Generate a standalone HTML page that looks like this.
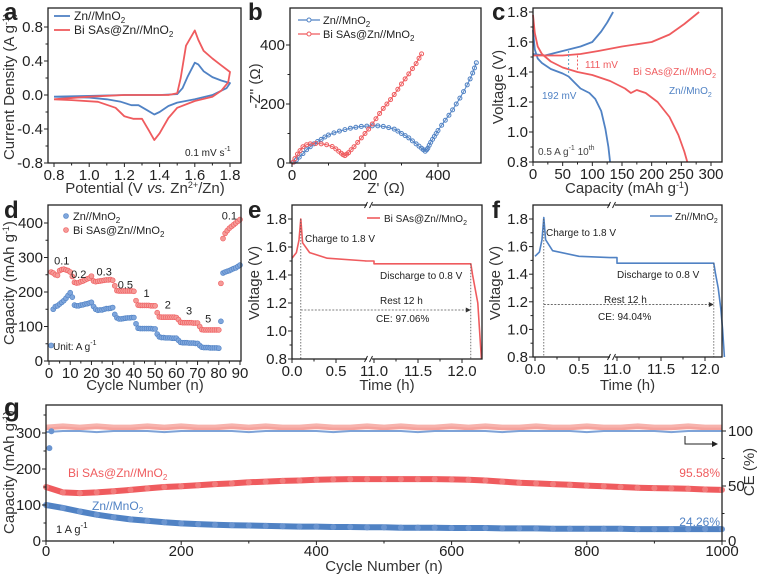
<!DOCTYPE html>
<html><head><meta charset="utf-8"><style>
html,body{margin:0;padding:0;background:#fff;width:761px;height:574px;overflow:hidden}
svg{display:block;font-family:"Liberation Sans",Arial,sans-serif}
</style></head><body>
<svg id="fig" width="761" height="574" viewBox="0 0 761 574" xmlns="http://www.w3.org/2000/svg"></svg>
<script>
// ---------- DATA ----------
const cvZnV=[0.8,1.0,1.2,1.4,1.5,1.53,1.56,1.6,1.62,1.65,1.7,1.75,1.8,1.78,1.7,1.6,1.5,1.45,1.4,1.37,1.33,1.28,1.24,1.18,1.1,1.0,0.8];
const cvZnI=[-0.02,-0.01,0.0,0.0,0.01,0.08,0.22,0.38,0.36,0.28,0.21,0.17,0.14,0.08,0.0,-0.05,-0.09,-0.13,-0.2,-0.23,-0.18,-0.12,-0.12,-0.08,-0.05,-0.03,-0.02];
const cvBiV=[0.8,1.0,1.2,1.45,1.5,1.52,1.55,1.6,1.62,1.65,1.7,1.75,1.8,1.79,1.75,1.7,1.6,1.5,1.45,1.4,1.37,1.34,1.3,1.25,1.2,1.15,1.05,0.9,0.8];
const cvBiI=[-0.05,-0.02,0,0,0.02,0.2,0.58,0.76,0.65,0.52,0.43,0.35,0.27,0.15,0.05,-0.02,-0.07,-0.15,-0.27,-0.45,-0.53,-0.42,-0.28,-0.28,-0.25,-0.15,-0.08,-0.06,-0.05];
const eisZnRe=[5,12,20,30,40,50,60,70,80,90,100,115,130,145,160,175,190,205,220,235,250,265,280,290,300,310,320,330,340,348,355,360,365,369,372,376,380,385,390,395,400,410,420,430,440,450,460,470,480,488,495,500,505];
const eisZnIm=[3,10,20,32,45,55,65,73,80,88,95,102,108,113,118,121,124,125,126,126,124,120,115,108,100,93,85,75,65,57,50,45,40,45,50,60,70,80,90,100,110,128,145,162,180,200,220,242,265,285,305,322,340];
const eisBiRe=[3,8,15,22,30,40,50,65,80,95,110,120,128,135,140,145,150,155,162,170,180,190,200,210,220,230,240,250,260,270,280,290,300,310,320,330,340,348,355];
const eisBiIm=[3,15,30,42,55,62,65,66,65,62,56,48,40,33,28,25,30,35,45,55,70,85,100,115,132,150,168,185,200,215,232,250,268,285,302,320,337,355,370];
const cZnChQ=[0,20,40,60,80,100,115,125,135];
const cZnChV=[1.52,1.51,1.53,1.55,1.57,1.60,1.67,1.73,1.80];
const cZnDiQ=[0,3,8,15,30,50,60,70,80,95,105,115,122,127,130];
const cZnDiV=[1.68,1.55,1.49,1.46,1.42,1.39,1.37,1.33,1.29,1.26,1.22,1.14,1.02,0.9,0.8];
const cBiChQ=[0,50,80,110,150,200,230,255,280];
const cBiChV=[1.51,1.51,1.52,1.54,1.57,1.60,1.65,1.72,1.80];
const cBiDiQ=[0,3,8,15,30,50,75,100,130,155,165,175,190,210,230,245,255,260];
const cBiDiV=[1.78,1.66,1.57,1.52,1.47,1.43,1.40,1.38,1.34,1.29,1.26,1.28,1.26,1.20,1.10,0.98,0.87,0.8];
const dBi=[258,255,250,248,262,265,266,264,262,258,245,228,226,227,230,232,235,238,240,246,232,230,231,232,233,234,235,235,236,234,218,204,203,203,203,203,203,203,203,202,175,162,161,161,161,161,161,160,160,160,140,128,127,127,127,127,127,127,127,126,120,112,111,111,111,111,111,110,110,110,100,91,90,90,90,90,90,90,90,90,225,355,370,378,385,390,395,400,405,410];
const dZn=[45,150,158,160,165,170,175,182,190,198,185,162,160,160,162,163,165,166,168,170,158,150,147,148,148,150,152,152,153,155,135,125,122,122,123,124,125,125,126,126,108,95,94,94,94,94,94,94,93,93,78,70,68,68,67,67,67,66,66,66,60,54,53,53,53,52,52,52,51,51,45,40,39,39,39,38,38,38,38,37,115,255,258,260,262,265,268,270,274,278];
const dRateLabels=["0.1","0.2","0.3","0.5","1","2","3","5","0.1"];
const dRateCycle=[6,14,26,36,46,56,66,75,85];
const dRateCap=[280,240,248,210,185,152,135,112,410];
const eT=[0,0.05,0.08,0.1,0.12,0.2,0.4,0.85,10.9,11.0,11.0,11.6,12.1,12.12,12.15,12.18,12.2,12.22];
const eV=[1.52,1.56,1.65,1.80,1.63,1.56,1.52,1.50,1.50,1.50,1.48,1.48,1.48,1.40,1.30,1.20,1.0,0.8];
const fT=[0,0.05,0.08,0.1,0.12,0.2,0.5,0.85,10.9,11.0,11.0,12.1,12.12,12.15,12.18,12.2,12.22];
const fV=[1.53,1.56,1.65,1.81,1.65,1.57,1.53,1.52,1.52,1.52,1.48,1.48,1.40,1.30,1.15,1.0,0.8];
const gCycles=[0,25,50,75,100,125,150,175,200,225,250,275,300,325,350,375,400,425,450,475,500,525,550,575,600,625,650,675,700,725,750,775,800,825,850,875,900,925,950,975,1000];
const gBi=[150,135,133,135,138,142,146,150,152,155,158,160,163,165,167,168,170,171,172,172,172,172,172,172,171,170,168,165,162,160,158,156,154,152,150,148,147,146,145,143,142];
const gZn=[100,92,82,73,66,60,56,52,49,47,45,44,43,42,41,40,40,39,39,38,38,37,37,37,36,36,36,35,35,35,34,34,34,34,34,33,33,33,33,33,33];
const gCeBi=[103,104,103,104,103,103,104,103,104,103,103,104,103,104,103,103,104,103,103,104,103,104,103,103,104,103,104,103,103,104,103,103,104,103,103,104,103,103,104,103,103];
const gCeZn=[99,100,100,99,100,100,100,99,100,100,100,100,99,100,100,100,100,99,100,100,100,100,99,100,100,100,100,99,100,100,100,100,99,100,100,100,100,99,100,100,100];

// ---------- HELPERS ----------
const NS="http://www.w3.org/2000/svg";
const svg=document.getElementById('fig');
const BLUE="#5082c4",RED="#ef5b5e",LBLUE="#7ea3d8",LRED="#f5a29c",INK="#222";
function mk(tag,attrs,name,parent){
  const e=document.createElementNS(NS,tag);
  for(const k in attrs) e.setAttribute(k,attrs[k]);
  
  
  (parent||svg).appendChild(e);return e;
}
function lin(d0,d1,r0,r1){return v=>r0+(v-d0)*(r1-r0)/(d1-d0);}
function txt(x,y,s,name,opt){
  opt=opt||{};
  const t=mk('text',{x:x,y:y,'font-size':opt.size||14,fill:opt.fill||INK,'text-anchor':opt.anchor||'start','font-weight':opt.weight||'normal'},name,opt.parent);
  if(opt.rot) t.setAttribute('transform','rotate(-90 '+x+' '+y+')');
  t.innerHTML=s;return t;
}
function poly(xs,ys,X,Y,color,name,w,dash){
  const pts=xs.map((v,i)=>X(v).toFixed(1)+','+Y(ys[i]).toFixed(1)).join(' ');
  const p=mk('polyline',{points:pts,fill:'none',stroke:color,'stroke-width':w||1.6,'stroke-linejoin':'round'},name);
  if(dash)p.setAttribute('stroke-dasharray',dash);
  return p;
}
function frame(l,t,r,b,name){mk('rect',{x:l,y:t,width:r-l,height:b-t,fill:'none',stroke:INK,'stroke-width':1.3},name);}
function xticks(vals,X,b,name,fmt,minor,dy){
  vals.forEach(v=>{mk('line',{x1:X(v),x2:X(v),y1:b,y2:b+4,stroke:INK,'stroke-width':1},name+'-tick');
    txt(X(v),b+(dy||17),fmt?fmt(v):String(v),name+'-label',{anchor:'middle',size:15});});
  (minor||[]).forEach(v=>{mk('line',{x1:X(v),x2:X(v),y1:b,y2:b+2.5,stroke:INK,'stroke-width':1},name+'-minor-tick');});
}
function yticks(vals,Y,l,name,fmt,minor,right){
  vals.forEach(v=>{mk('line',{x1:l,x2:right?l+4:l-4,y1:Y(v),y2:Y(v),stroke:INK,'stroke-width':1},name+'-tick');
    txt(right?l+6:l-5,Y(v)+5,fmt?fmt(v):String(v),name+'-label',{anchor:right?'start':'end',size:15});});
  (minor||[]).forEach(v=>{mk('line',{x1:l,x2:right?l+2.5:l-2.5,y1:Y(v),y2:Y(v),stroke:INK,'stroke-width':1},name+'-minor-tick');});
}
const f1=v=>v.toFixed(1);

// ---------- PANEL A ----------
(function(){
  const X=lin(0.8,1.8,54,230),Y=lin(-0.8,0.8,163,27);
  poly(cvZnV,cvZnI,X,Y,BLUE,'cv-curve-zn',1.8);
  poly(cvBiV,cvBiI,X,Y,RED,'cv-curve-bi',1.8);
  frame(48,8,241,163,'panel-a-frame');
  xticks([0.8,1.0,1.2,1.4,1.6,1.8],X,163,'a-x',f1,[0.9,1.1,1.3,1.5,1.7]);
  yticks([-0.8,-0.4,0.0,0.4,0.8],Y,48,'a-y',f1,[-0.6,-0.2,0.2,0.6]);
  txt(14,86,'Current Density (A g<tspan dy="-5" font-size="9">-1</tspan><tspan dy="5">)</tspan>','a-y-axis-title',{anchor:'middle',rot:1,size:15,fill:'#333'});
  txt(145,193,'Potential (V <tspan font-style="italic">vs.</tspan> Zn<tspan dy="-5" font-size="9">2+</tspan><tspan dy="5">/Zn)</tspan>','a-x-axis-title',{anchor:'middle',size:15,fill:'#333'});
  mk('line',{x1:54,x2:70,y1:16,y2:16,stroke:BLUE,'stroke-width':1.8},'a-legend-line-zn');
  txt(74,20,'Zn//MnO<tspan font-size="8" dy="3">2</tspan>','a-legend-label-zn',{size:12});
  mk('line',{x1:54,x2:70,y1:30,y2:30,stroke:RED,'stroke-width':1.8},'a-legend-line-bi');
  txt(74,34,'Bi SAs@Zn//MnO<tspan font-size="8" dy="3">2</tspan>','a-legend-label-bi',{size:12});
  txt(185,156,'0.1 mV s<tspan dy="-5" font-size="7">-1</tspan>','a-scan-rate-note',{size:10});
  txt(4,20,'a','panel-a-letter',{size:24,weight:'bold'});
})();

// ---------- PANEL B ----------
(function(){
  const X=lin(0,400,292,438),Y=lin(0,400,163,45);
  poly(eisZnRe,eisZnIm,X,Y,BLUE,'eis-line-zn',1);
  poly(eisBiRe,eisBiIm,X,Y,RED,'eis-line-bi',1);
  eisZnRe.forEach((v,i)=>{mk('circle',{cx:X(v),cy:Y(eisZnIm[i]),r:2,fill:'none',stroke:BLUE,'stroke-width':1},'eis-point-zn');});
  eisBiRe.forEach((v,i)=>{mk('circle',{cx:X(v),cy:Y(eisBiIm[i]),r:2,fill:'none',stroke:RED,'stroke-width':1},'eis-point-bi');});
  frame(290,8,481,163,'panel-b-frame');
  xticks([0,200,400],X,163,'b-x',null,[100,300]);
  yticks([0,200,400],Y,290,'b-y',null,[100,300]);
  txt(260,86,'-Z\'\' (Ω)','b-y-axis-title',{anchor:'middle',rot:1,size:15,fill:'#333'});
  txt(386,193,'Z\' (Ω)','b-x-axis-title',{anchor:'middle',size:15,fill:'#333'});
  mk('line',{x1:298,x2:320,y1:20,y2:20,stroke:BLUE,'stroke-width':1.2},'b-legend-line-zn');
  mk('circle',{cx:309,cy:20,r:2,fill:'#fff',stroke:BLUE},'b-legend-marker-zn');
  txt(323,24,'Zn//MnO<tspan font-size="8" dy="3">2</tspan>','b-legend-label-zn',{size:11});
  mk('line',{x1:298,x2:320,y1:34,y2:34,stroke:RED,'stroke-width':1.2},'b-legend-line-bi');
  mk('circle',{cx:309,cy:34,r:2,fill:'#fff',stroke:RED},'b-legend-marker-bi');
  txt(323,38,'Bi SAs@Zn//MnO<tspan font-size="8" dy="3">2</tspan>','b-legend-label-bi',{size:11});
  txt(248,20,'b','panel-b-letter',{size:24,weight:'bold'});
})();

// ---------- PANEL C ----------
(function(){
  const X=lin(0,300,533,711),Y=lin(0.8,1.8,162,12);
  poly(cZnChQ,cZnChV,X,Y,BLUE,'gcd-charge-zn',1.8);
  poly(cZnDiQ,cZnDiV,X,Y,BLUE,'gcd-discharge-zn',1.8);
  poly(cBiChQ,cBiChV,X,Y,RED,'gcd-charge-bi',1.8);
  poly(cBiDiQ,cBiDiV,X,Y,RED,'gcd-discharge-bi',1.8);
  mk('line',{x1:X(60),x2:X(60),y1:Y(1.54),y2:Y(1.38),stroke:'#5aa6c8','stroke-width':1,'stroke-dasharray':'2,2'},'c-gap-arrow-zn');
  mk('line',{x1:X(75),x2:X(75),y1:Y(1.51),y2:Y(1.41),stroke:RED,'stroke-width':1,'stroke-dasharray':'2,2'},'c-gap-arrow-bi');
  frame(533,8,722,162,'panel-c-frame');
  xticks([0,50,100,150,200,250,300],X,162,'c-x',null,[25,75,125,175,225,275]);
  yticks([0.8,1.0,1.2,1.4,1.6,1.8],Y,533,'c-y',f1,[0.9,1.1,1.3,1.5,1.7]);
  txt(503,87,'Voltage (V)','c-y-axis-title',{anchor:'middle',rot:1,size:15,fill:'#333'});
  txt(627,193,'Capacity (mAh g<tspan dy="-5" font-size="9">-1</tspan><tspan dy="5">)</tspan>','c-x-axis-title',{anchor:'middle',size:15,fill:'#333'});
  txt(585,68,'111 mV','c-annot-111mv',{size:10,fill:RED});
  txt(542,99,'192 mV','c-annot-192mv',{size:10,fill:BLUE});
  txt(633,75,'Bi SAs@Zn//MnO<tspan font-size="7" dy="3">2</tspan>','c-label-bi',{size:10,fill:RED});
  txt(669,94,'Zn//MnO<tspan font-size="7" dy="3">2</tspan>','c-label-zn',{size:10,fill:BLUE});
  txt(538,155,'0.5 A g<tspan dy="-5" font-size="7">-1</tspan><tspan dy="5">  10</tspan><tspan dy="-5" font-size="7">th</tspan>','c-condition-note',{size:10,fill:'#444'});
  txt(492,20,'c','panel-c-letter',{size:24,weight:'bold'});
})();

// ---------- PANEL D ----------
(function(){
  const X=lin(0,90,49,240),Y=lin(0,400,361,223);
  dZn.forEach((v,i)=>{mk('circle',{cx:X(i+1),cy:Y(v),r:2.5,fill:'#7fa6dc',stroke:BLUE,'stroke-width':0.6},'rate-point-zn');});
  dBi.forEach((v,i)=>{mk('circle',{cx:X(i+1),cy:Y(v),r:2.5,fill:'#f59a97',stroke:RED,'stroke-width':0.6},'rate-point-bi');});
  dRateLabels.forEach((s,i)=>{txt(X(dRateCycle[i]),Y(dRateCap[i]),s,'rate-label',{size:11,anchor:'middle'});});
  frame(48,205,241,361,'panel-d-frame');
  xticks([0,10,20,30,40,50,60,70,80,90],X,361,'d-x',null,[5,15,25,35,45,55,65,75,85]);
  yticks([0,100,200,300,400],Y,48,'d-y',null,[50,150,250,350]);
  txt(14,283,'Capacity (mAh g<tspan dy="-5" font-size="9">-1</tspan><tspan dy="5">)</tspan>','d-y-axis-title',{anchor:'middle',rot:1,size:15,fill:'#333'});
  txt(145,390,'Cycle Number (n)','d-x-axis-title',{anchor:'middle',size:15,fill:'#333'});
  mk('circle',{cx:66,cy:216,r:2.5,fill:'#7fa6dc',stroke:BLUE,'stroke-width':0.6},'d-legend-marker-zn');
  txt(73,220,'Zn//MnO<tspan font-size="8" dy="3">2</tspan>','d-legend-label-zn',{size:11});
  mk('circle',{cx:66,cy:230,r:2.5,fill:'#f59a97',stroke:RED,'stroke-width':0.6},'d-legend-marker-bi');
  txt(73,234,'Bi SAs@Zn//MnO<tspan font-size="8" dy="3">2</tspan>','d-legend-label-bi',{size:11});
  txt(53,350,'Unit: A g<tspan dy="-5" font-size="7">-1</tspan>','d-unit-note',{size:10});
  txt(4,218,'d','panel-d-letter',{size:24,weight:'bold'});
})();

// ---------- PANELS E/F ----------
function selfDischarge(x0,l,r,t,b,y18,y08,T,V,color,letter,arrowV){
  const Xs=lin(0,0.5,x0,x0+44);
  const X=tv=>tv<5?Xs(tv):x0+82+(tv-11)*88;
  const Y=lin(0.8,1.8,y08,y18);
  poly(T,V,X,Y,color,letter+'-voltage-curve',1.6);
  mk('line',{x1:X(0.1),x2:X(0.1),y1:Y(1.8),y2:b,stroke:'#555','stroke-width':0.8,'stroke-dasharray':'1.5,1.5'},letter+'-charge-marker-line');
  mk('line',{x1:X(12.1),x2:X(12.1),y1:Y(1.48),y2:b,stroke:'#555','stroke-width':0.8,'stroke-dasharray':'1.5,1.5'},letter+'-discharge-marker-line');
  mk('line',{x1:X(0.1),x2:X(12.1)-4,y1:Y(arrowV),y2:Y(arrowV),stroke:'#555','stroke-width':0.8,'stroke-dasharray':'2,1.5'},letter+'-rest-arrow');
  mk('polygon',{points:(X(12.1)-5)+','+(Y(arrowV)-2.5)+' '+X(12.1)+','+Y(arrowV)+' '+(X(12.1)-5)+','+(Y(arrowV)+2.5),fill:'#333'},letter+'-rest-arrow-head');
  mk('rect',{x:l,y:t,width:r-l,height:b-t,fill:'none',stroke:INK,'stroke-width':1.3},'panel-'+letter+'-frame');
  const bx=x0+76;
  mk('rect',{x:bx-1,y:t-3,width:5,height:6,fill:'#fff'},letter+'-axis-break-top');
  mk('rect',{x:bx-1,y:b-3,width:5,height:6,fill:'#fff'},letter+'-axis-break-bottom');
  [bx-2,bx+3].forEach(xx=>{mk('line',{x1:xx-1.5,x2:xx+1.5,y1:t+3,y2:t-3,stroke:INK,'stroke-width':1},letter+'-break-mark');
    mk('line',{x1:xx-1.5,x2:xx+1.5,y1:b+3,y2:b-3,stroke:INK,'stroke-width':1},letter+'-break-mark');});
  const tk=[0,0.5,11.0,11.5,12.0];
  tk.forEach(v=>{mk('line',{x1:X(v),x2:X(v),y1:b,y2:b+4,stroke:INK},letter+'-x-tick');
    txt(X(v),b+17,f1(v),letter+'-x-label',{anchor:'middle',size:15});});
  [0.25,11.25,11.75].forEach(v=>{mk('line',{x1:X(v),x2:X(v),y1:b,y2:b+2.5,stroke:INK},letter+'-x-minor-tick');});
  yticks([0.8,1.0,1.2,1.4,1.6,1.8],Y,l,letter+'-y',f1,[0.9,1.1,1.3,1.5,1.7]);
  txt(l-33,283,'Voltage (V)',letter+'-y-axis-title',{anchor:'middle',rot:1,size:15,fill:'#333'});
  txt((l+r)/2,390,'Time (h)',letter+'-x-axis-title',{anchor:'middle',size:15,fill:'#333'});
}
(function(){
  selfDischarge(292,292,482,205,359,219,359,eT,eV,RED,'e',1.15);
  mk('line',{x1:367,x2:380,y1:218,y2:218,stroke:RED,'stroke-width':1.6},'e-legend-line');
  txt(384,222,'Bi SAs@Zn//MnO<tspan font-size="7" dy="3">2</tspan>','e-legend-label',{size:10});
  txt(305,242,'Charge to 1.8 V','e-charge-note',{size:10});
  txt(380,279,'Discharge to 0.8 V','e-discharge-note',{size:10});
  txt(380,304,'Rest 12 h','e-rest-note',{size:10});
  txt(376,322,'CE: 97.06%','e-ce-note',{size:10});
  txt(248,218,'e','panel-e-letter',{size:24,weight:'bold'});
})();
(function(){
  selfDischarge(535,533,722,205,357,219,357,fT,fV,BLUE,'f',1.18);
  mk('line',{x1:650,x2:672,y1:216,y2:216,stroke:BLUE,'stroke-width':1.6},'f-legend-line');
  txt(675,220,'Zn//MnO<tspan font-size="7" dy="3">2</tspan>','f-legend-label',{size:10});
  txt(546,236,'Charge to 1.8 V','f-charge-note',{size:10});
  txt(617,278,'Discharge to 0.8 V','f-discharge-note',{size:10});
  txt(604,303,'Rest 12 h','f-rest-note',{size:10});
  txt(598,320,'CE: 94.04%','f-ce-note',{size:10});
  txt(492,218,'f','panel-f-letter',{size:24,weight:'bold'});
})();

// ---------- PANEL G ----------
(function(){
  const X=lin(0,1000,46,722),Y=lin(0,300,541,433),Yr=lin(0,100,541,431);
  poly(gCycles,gCeBi,X,Yr,LRED,'ce-series-bi',5);
  poly(gCycles,gCeZn,X,Yr,LBLUE,'ce-series-zn',2);
  poly(gCycles,gCeBi.map(v=>v+1.5),X,Yr,'#f7b3ad','ce-series-bi-upper',3);
  poly(gCycles,gBi,X,Y,RED,'capacity-series-bi',6);
  poly(gCycles,gZn,X,Y,BLUE,'capacity-series-zn',6);
  gCycles.forEach((c,i)=>{mk('circle',{cx:X(c),cy:Y(gBi[i]),r:3,fill:'#f27c7c'},'capacity-point-bi');
    mk('circle',{cx:X(c),cy:Y(gZn[i]),r:3,fill:'#6b95d0'},'capacity-point-zn');});
  mk('circle',{cx:X(5),cy:Y(258),r:3,fill:'#6b95d0'},'early-point-zn');
  mk('circle',{cx:X(8),cy:Y(305),r:3,fill:'#6b95d0'},'early-point-zn');
  mk('rect',{x:46,y:405,width:676,height:136,fill:'none',stroke:INK,'stroke-width':1.3},'panel-g-frame');
  xticks([0,200,400,600,800,1000],X,541,'g-x',null,[100,300,500,700,900],15);
  yticks([0,100,200,300],Y,46,'g-y',null,[50,150,250,350]);
  yticks([0,50,100],Yr,722,'g-y-right',null,[25,75],true);
  txt(14,472,'Capacity (mAh g<tspan dy="-5" font-size="9">-1</tspan><tspan dy="5">)</tspan>','g-y-axis-title',{anchor:'middle',rot:1,size:15,fill:'#333'});
  txt(754,472,'CE (%)','g-y-right-axis-title',{anchor:'middle',rot:1,size:15,fill:'#333'});
  txt(384,571,'Cycle Number (n)','g-x-axis-title',{anchor:'middle',size:15,fill:'#333'});
  txt(68,477,'Bi SAs@Zn//MnO<tspan font-size="8" dy="3">2</tspan>','g-label-bi',{size:12,fill:RED});
  txt(92,510,'Zn//MnO<tspan font-size="8" dy="3">2</tspan>','g-label-zn',{size:12,fill:BLUE});
  txt(56,533,'1 A g<tspan dy="-5" font-size="8">-1</tspan>','g-current-note',{size:11});
  txt(720,477,'95.58%','g-retention-bi',{size:12,fill:RED,anchor:'end'});
  txt(720,526,'24.26%','g-retention-zn',{size:12,fill:BLUE,anchor:'end'});
  mk('polyline',{points:'685,436 685,444 712,444',fill:'none',stroke:INK,'stroke-width':1},'g-right-axis-arrow');
  mk('polygon',{points:'712,441 718,444 712,447',fill:INK},'g-right-axis-arrow-head');
  txt(4,416,'g','panel-g-letter',{size:26,weight:'bold'});
})();
</script>
</body></html>
